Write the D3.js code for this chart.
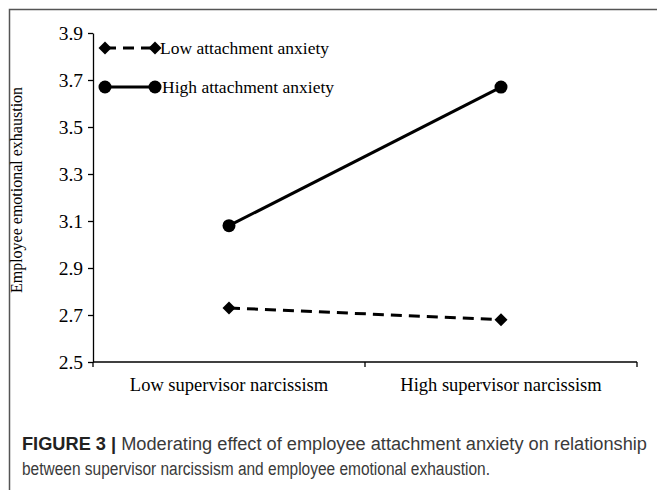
<!DOCTYPE html>
<html>
<head>
<meta charset="utf-8">
<script src="https://cdn.jsdelivr.net/npm/d3@7"></script>
<style>
  body { margin: 0; background: #fff; }
  svg { display: block; }
</style>
</head>
<body>
<div id="chart"></div>
<script>
// values
var categories = ["Low supervisor narcissism", "High supervisor narcissism"];
var seriesNames = ["Low attachment anxiety", "High attachment anxiety"];
var lowAnxiety = [2.73, 2.68];
var highAnxiety = [3.08, 3.67];
var yTicks = [2.5, 2.7, 2.9, 3.1, 3.3, 3.5, 3.7, 3.9];

var W = 657, H = 490;
var margin = {top: 33, right: 20, bottom: 128, left: 93};
var width = 637 - margin.left, height = 362 - margin.top;

var svg = d3.select("#chart").append("svg")
    .attr("width", W)
    .attr("height", H);

// outer frame, only top and left edges show
svg.append("path")
    .attr("d", "M9.5," + H + "V9.5H" + W)
    .attr("fill", "none")
    .attr("stroke", "#555")
    .attr("stroke-width", 1.5);

var g = svg.append("g")
    .attr("transform", "translate(" + margin.left + "," + margin.top + ")");

var x = d3.scaleBand().domain(categories).range([0, width]);
var y = d3.scaleLinear().domain([2.5, 3.9]).range([height, 0]);

var serif = "'Liberation Serif', 'Times New Roman', serif";

// y axis
var yAxis = g.append("g")
    .call(d3.axisLeft(y).tickValues(yTicks).tickFormat(d3.format(".1f")).tickSize(5).tickSizeOuter(0));
yAxis.select(".domain").attr("stroke", "#000").attr("stroke-width", 1.3);
yAxis.selectAll(".tick line").attr("stroke", "#000").attr("stroke-width", 1.3);
yAxis.selectAll(".tick text")
    .attr("font-family", serif)
    .attr("font-size", "19.5px")
    .attr("fill", "#000")
    .attr("x", -10);

// x axis with ticks between categories
var xAxis = g.append("g")
    .attr("transform", "translate(0," + height + ")");
xAxis.append("line")
    .attr("x1", 0).attr("x2", width)
    .attr("stroke", "#000").attr("stroke-width", 1.3);
var bounds = [0, x.step(), width];
xAxis.selectAll(".xt")
    .data(bounds)
    .enter().append("line")
    .attr("x1", function(d) { return d; })
    .attr("x2", function(d) { return d; })
    .attr("y1", 0).attr("y2", 5)
    .attr("stroke", "#000").attr("stroke-width", 1.3);
xAxis.selectAll(".xl")
    .data(categories)
    .enter().append("text")
    .attr("x", function(d) { return x(d) + x.bandwidth() / 2; })
    .attr("y", 29)
    .attr("text-anchor", "middle")
    .attr("font-family", serif)
    .attr("font-size", "18.5px")
    .text(function(d) { return d; });

// y axis title
svg.append("text")
    .attr("transform", "translate(22,190) rotate(-90)")
    .attr("text-anchor", "middle")
    .attr("font-family", serif)
    .attr("font-size", "16px")
    .text("Employee emotional exhaustion");

var cx = function(d, i) { return x(categories[i]) + x.bandwidth() / 2; };
var line = d3.line()
    .x(function(d, i) { return cx(d, i); })
    .y(function(d) { return y(d); });

// diamond = square turned 45 degrees
var diamond = d3.symbol().type(d3.symbolSquare).size(85);

// low anxiety: dashed with diamonds
g.append("path")
    .datum(lowAnxiety)
    .attr("d", line)
    .attr("fill", "none")
    .attr("stroke", "#000")
    .attr("stroke-width", 3)
    .attr("stroke-dasharray", "11,7");
g.selectAll(".dm")
    .data(lowAnxiety)
    .enter().append("path")
    .attr("d", diamond)
    .attr("transform", function(d, i) { return "translate(" + cx(d, i) + "," + y(d) + ") rotate(45)"; })
    .attr("fill", "#000");

// high anxiety: solid with circles
g.append("path")
    .datum(highAnxiety)
    .attr("d", line)
    .attr("fill", "none")
    .attr("stroke", "#000")
    .attr("stroke-width", 3);
g.selectAll(".cm")
    .data(highAnxiety)
    .enter().append("circle")
    .attr("cx", function(d, i) { return cx(d, i); })
    .attr("cy", function(d) { return y(d); })
    .attr("r", 6.5)
    .attr("fill", "#000");

// legend
var legend = svg.append("g");
var legY = [48, 87];
seriesNames.forEach(function(name, i) {
    var row = legend.append("g").attr("transform", "translate(0," + legY[i] + ")");
    row.append("line")
        .attr("x1", 105).attr("x2", 155)
        .attr("stroke", "#000").attr("stroke-width", 3)
        .attr("stroke-dasharray", i == 0 ? "11,7" : null);
    [105, 155].forEach(function(px) {
        if (i == 0) {
            row.append("path").attr("d", diamond).attr("transform", "translate(" + px + ",0) rotate(45)").attr("fill", "#000");
        } else {
            row.append("circle").attr("cx", px).attr("cy", 0).attr("r", 6.5).attr("fill", "#000");
        }
    });
    row.append("text")
        .attr("x", i == 0 ? 160 : 162)
        .attr("y", 6)
        .attr("font-family", serif)
        .attr("font-size", "17.5px")
        .text(name);
});

// caption
var cap = svg.append("g")
    .attr("font-family", "'Liberation Sans', Arial, sans-serif")
    .attr("font-size", "18px")
    .attr("fill", "#3a3a3a");
var l1 = cap.append("text").attr("x", 22).attr("y", 450)
    .attr("textLength", 625).attr("lengthAdjust", "spacingAndGlyphs");
l1.append("tspan").attr("font-weight", "bold").attr("fill", "#222").text("FIGURE 3 | ");
l1.append("tspan").text("Moderating effect of employee attachment anxiety on relationship");
cap.append("text").attr("x", 22).attr("y", 475)
    .attr("textLength", 468).attr("lengthAdjust", "spacingAndGlyphs")
    .text("between supervisor narcissism and employee emotional exhaustion.");
</script>
</body>
</html>
